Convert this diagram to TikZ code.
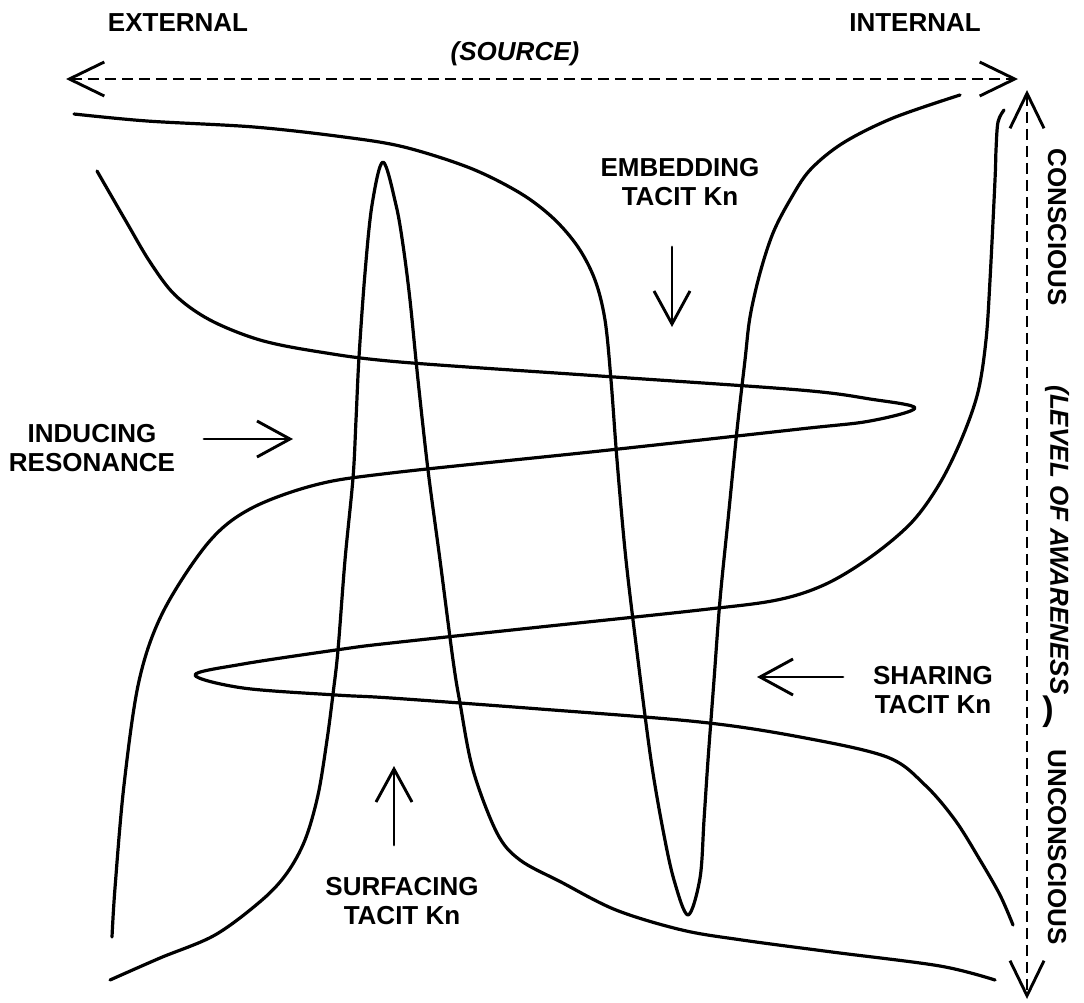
\documentclass[tikz,border=0pt]{standalone}
\usepackage{fontspec}
\setmainfont{Liberation Sans}
\usetikzlibrary{arrows.meta}
\begin{document}
\begin{tikzpicture}[x=1pt,y=-1pt,
  wave/.style={line width=3.2pt, line cap=round, line join=round},
  barb/.tip={Straight Barb[length=35pt,width=34pt]},
  axisline/.style={line width=2.9pt, dash pattern=on 11pt off 6pt, barb-barb},
  pointer/.style={line width=2.9pt, line cap=round, -{Straight Barb[length=33pt,width=36pt]}},
  lbl/.style={font=\bfseries\fontsize{26}{29}\selectfont, align=center, inner sep=0pt},
  ilbl/.style={lbl, font=\bfseries\itshape\fontsize{26}{29}\selectfont}]
\useasboundingbox (0,0) rectangle (1084,1002);

% the four interlocking curves
\draw[wave] plot[smooth, tension=0.55] coordinates {
  (97,171) (127,223) (150,262) (175,295) (210,320) (260,340) (320,352) (400,362)
  (600,376) (800,390) (870,399) (915,408) (870,421) (800,429) (600,451) (391,473)
  (315,485) (250,509) (208,543) (163,612) (139,681) (124,785) (115,888) (112,937)};
\draw[wave] plot[smooth, tension=0.55] coordinates {
  (74,114) (147,121) (254,127) (344,137) (404,147) (470,168) (520,193) (553,218)
  (578,247) (595,280) (605,320) (611,380) (617,460) (626,560) (638,660) (651,760)
  (663,830) (674,880) (688,915) (700,878) (704,820) (708,760) (714,680) (720,600)
  (728,520) (737,430) (745,360) (750,317) (760,273) (773,233) (790,200) (810,170)
  (843,143) (893,118) (960,95)};
\draw[wave] plot[smooth, tension=0.55] coordinates {
  (1004,110) (998,122) (996,150) (995,180) (990,280) (986,340) (978,392) (962,438)
  (940,483) (912,522) (872,556) (826,584) (777,600) (700,610) (540,627) (391,643)
  (343,649) (243,664) (195,675) (243,688) (336,695) (391,698) (540,709) (700,722)
  (800,737) (887,757) (925,785) (955,820) (980,860) (1000,895) (1013,925)};
\draw[wave] plot[smooth, tension=0.55] coordinates {
  (110,980) (160,958) (215,935) (262,900) (287,873) (305,840) (318,795) (327,740)
  (333,694) (338,650) (345,560) (353,478) (356,420) (359,357) (365,273) (372,205)
  (383,162) (396,205) (403,245) (410,300) (418,380) (428,470) (440,560) (453,660)
  (460,703) (473,770) (497,833) (520,860) (561,882) (616,910) (682,930) (742,940)
  (832,952) (940,966) (995,980)};

% axes
\coordinate (extEnd) at (66,79);
\coordinate (intEnd) at (1018,79);
\draw[axisline] (extEnd) -- (intEnd);
\coordinate (conEnd) at (1027,90);
\coordinate (uncEnd) at (1027,999);
\draw[axisline] (conEnd) -- (uncEnd);

% axis labels
\node[lbl] (external) at (178,23) {EXTERNAL};
\node[lbl] (internal) at (915,23) {INTERNAL};
\node[ilbl] (source) at (515,54) {(SOURCE)};
\node[lbl, rotate=-90] (conscious) at (1057,227) {CONSCIOUS};
\node[ilbl, rotate=-90] (level) at (1057,540) {(LEVEL OF AWARENESS};
\node[lbl, font=\bfseries\fontsize{34}{36}\selectfont] (levelclose) at (1048,712) {)};
\node[lbl, rotate=-90] (unconscious) at (1057,847) {UNCONSCIOUS};

% process labels and their pointers
\node[lbl] (embedding) at (680,182) {EMBEDDING\\TACIT Kn};
\coordinate (embFrom) at (672,247);
\coordinate (embTo) at (672,327);
\draw[pointer] (embFrom) -- (embTo);

\node[lbl] (inducing) at (92,448) {INDUCING\\RESONANCE};
\coordinate (indFrom) at (204,439);
\coordinate (indTo) at (293,439);
\draw[pointer] (indFrom) -- (indTo);

\node[lbl] (sharing) at (933,690) {SHARING\\TACIT Kn};
\coordinate (shaFrom) at (843,677);
\coordinate (shaTo) at (757,677);
\draw[pointer] (shaFrom) -- (shaTo);

\node[lbl] (surfacing) at (402,901) {SURFACING\\TACIT Kn};
\coordinate (surFrom) at (394,845);
\coordinate (surTo) at (394,766);
\draw[pointer] (surFrom) -- (surTo);
\end{tikzpicture}
\end{document}
